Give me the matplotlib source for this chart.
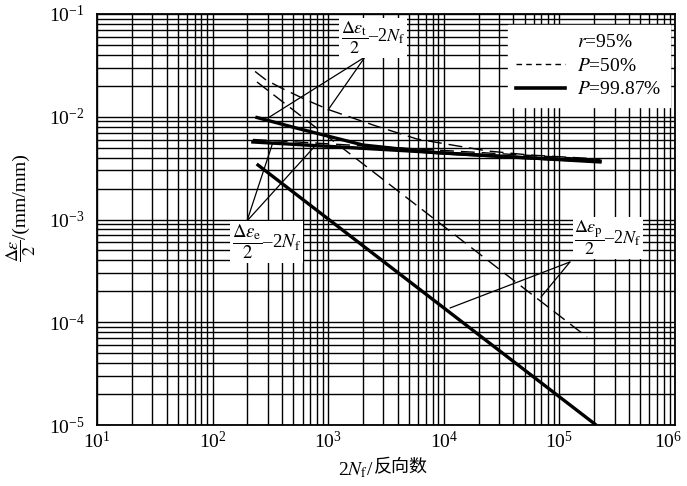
import matplotlib
matplotlib.use("Agg")
import matplotlib.pyplot as plt
import matplotlib.transforms as mtransforms
from matplotlib.lines import Line2D
import numpy as np

plt.rcParams['font.family'] = ['Liberation Serif', 'Noto Sans CJK SC']
plt.rcParams['mathtext.fontset'] = 'stix'

# strain amplitude vs reversals
tot_50_x = [233, 290, 391, 643, 1036, 2591, 5864, 13270, 24120, 55680, 224400]
tot_50_y = [0.0276, 0.0228, 0.0191, 0.0146, 0.0116, 8.13e-3, 6.07e-3, 5.19e-3, 4.64e-3, 4.24e-3, 3.88e-3]

tot_99_x = [242, 570, 2000, 8066, 45600, 224400]
tot_99_y = [9.83e-3, 7.60e-3, 5.31e-3, 4.49e-3, 4.01e-3, 3.71e-3]

ela_50_x = [223, 224400]
ela_50_y = [6.01e-3, 3.84e-3]
ela_99_x = [223, 224400]
ela_99_y = [5.68e-3, 3.63e-3]

pla_50_x = [242, 173400]
pla_50_y = [0.0218, 7.18e-5]
pla_99_x = [247, 203000]
pla_99_y = [3.39e-3, 1.02e-5]

legend_labels = [r'$r$=95%', r'$P$=50%', r'$P$=99.87%']

fig = plt.figure(figsize=(6.87, 4.86), dpi=100)
ax = fig.add_axes([0.1412, 0.1255, 0.8413, 0.8457])
ax.set_xscale('log')
ax.set_yscale('log')
ax.set_xlim(10, 1e6)
ax.set_ylim(1e-5, 1e-1)

ax.grid(True, which='both', color='black', lw=1.0)
ax.set_axisbelow(True)
for s in ax.spines.values():
    s.set_linewidth(1.3)
ax.tick_params(which='both', length=0, labelsize=14)
ax.tick_params(axis='x', pad=4)
ax.tick_params(axis='y', pad=9)

dash = (10, 5)
ax.plot(tot_50_x, tot_50_y, color='black', lw=1.0, dashes=dash)
ax.plot(pla_50_x, pla_50_y, color='black', lw=1.0, dashes=dash)
ax.plot(ela_50_x, ela_50_y, color='black', lw=1.0, dashes=dash)
ax.plot(tot_99_x, tot_99_y, color='black', lw=2.4)
ax.plot(ela_99_x, ela_99_y, color='black', lw=2.4)
ax.plot(pla_99_x, pla_99_y, color='black', lw=2.4)

# labels with leader lines
lab_kw = dict(textcoords='axes fraction',
              arrowprops=dict(arrowstyle='-', lw=0.9, color='black', shrinkA=0, shrinkB=0))
box = dict(boxstyle='square,pad=0.1', fc='white', ec='none')

ax.text(0.4775, 0.9416, r'$\dfrac{\Delta\varepsilon_{\rm t}}{2}$–2$N_{\rm f}$',
        transform=ax.transAxes, fontsize=13, ha='center', va='center', bbox=box, zorder=5)
for tgt in [(301, 9.72e-3), (996, 0.01163)]:
    ax.annotate('', xy=tgt, xytext=(0.4637, 0.8954), **lab_kw)

ax.text(0.294, 0.445, r'$\dfrac{\Delta\varepsilon_{\rm e}}{2}$–2$N_{\rm f}$',
        transform=ax.transAxes, fontsize=13.5, ha='center', va='center', bbox=box, zorder=5)
for tgt in [(330, 5.5e-3), (770, 5.2e-3)]:
    ax.annotate('', xy=tgt, xytext=(0.2595, 0.4964), **lab_kw)

ax.text(0.884, 0.455, r'$\dfrac{\Delta\varepsilon_{\rm p}}{2}$–2$N_{\rm f}$',
        transform=ax.transAxes, fontsize=13, ha='center', va='center', bbox=box, zorder=5)
for tgt in [(11310, 1.376e-4), (69330, 1.761e-4)]:
    ax.annotate('', xy=tgt, xytext=(0.8183, 0.3966), **lab_kw)

handles = [Line2D([], [], color='none'),
           Line2D([], [], color='black', lw=1.0, dashes=(4, 3)),
           Line2D([], [], color='black', lw=2.6)]
leg = ax.legend(handles, legend_labels, loc='upper right', bbox_to_anchor=(0.991, 0.973),
                fontsize=14, frameon=True, fancybox=False, edgecolor='white', framealpha=1,
                borderaxespad=0, handlelength=2.5, handletextpad=0.6, labelspacing=0.3,
                borderpad=0.45)
leg.set_zorder(6)

# pull the 10^6 tick label inside the figure
fig.canvas.draw()
for tick in ax.xaxis.get_major_ticks():
    if np.isclose(tick.get_loc(), 1e6):
        tick.label1.set_transform(tick.label1.get_transform() +
                                  mtransforms.ScaledTranslation(-7 / 100, 0, fig.dpi_scale_trans))

# y label: fraction followed by the unit
yl = fig.text(21 / 687, 1 - 262 / 486, r'$\dfrac{\Delta\varepsilon}{2}$',
              rotation=90, ha='center', va='bottom', fontsize=13)
ax.annotate('/(mm/mm)', xy=(0.5, 1), xycoords=yl, rotation=90, ha='center', va='bottom',
            fontsize=14, annotation_clip=False)

t1 = fig.text(0.492, 0.022, r'2$N_{\rm f}$/', ha='left', va='baseline', fontsize=14)
ax.annotate('反向数', xy=(1, 0.18), xycoords=t1, ha='left', va='bottom', fontsize=13,
            annotation_clip=False)

fig.savefig('out.png', dpi=100)
